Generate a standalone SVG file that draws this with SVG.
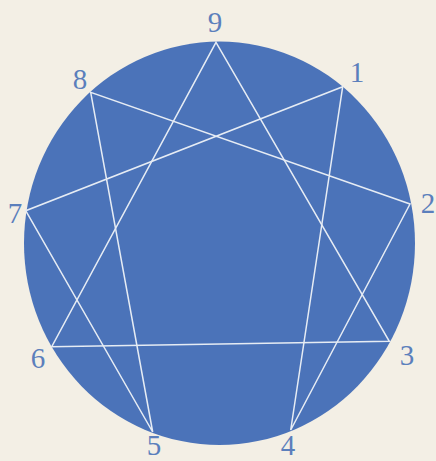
<svg xmlns="http://www.w3.org/2000/svg" width="436" height="461" viewBox="0 0 436 461">
<style>
.lbl{font-family:"Liberation Serif","Times New Roman",serif;font-size:29px;fill:#5b7fbc;text-anchor:middle}
.ln{stroke:#e6ecf4;stroke-width:1.5;fill:none;stroke-linecap:round}
</style>
<rect width="436" height="461" fill="#f3efe5"/>
<g id="circle">
<ellipse cx="219.5" cy="243.3" rx="195.5" ry="201.7" fill="#4b73b9"/>
</g>
<g id="connectors">
<polygon class="ln" points="216,42.3 389.3,341.3 51.7,346.7"/>
<polygon class="ln" points="342.7,86.7 290.7,430 410,204 90.7,92.3 152.7,432 25.7,210.7"/>
</g>
<g id="n9"><text class="lbl" x="215" y="32">9</text></g>
<g id="n1"><text class="lbl" x="357" y="82">1</text></g>
<g id="n2"><text class="lbl" x="428" y="213">2</text></g>
<g id="n3"><text class="lbl" x="407" y="365">3</text></g>
<g id="n4"><text class="lbl" x="288" y="455">4</text></g>
<g id="n5"><text class="lbl" x="154" y="455">5</text></g>
<g id="n6"><text class="lbl" x="38" y="368">6</text></g>
<g id="n7"><text class="lbl" x="15" y="223">7</text></g>
<g id="n8"><text class="lbl" x="80" y="89">8</text></g>
</svg>
